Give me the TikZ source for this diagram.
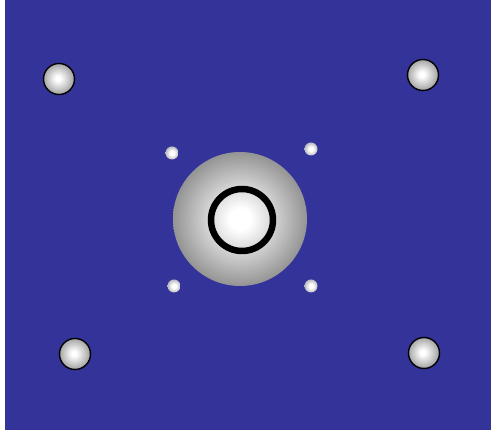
\documentclass[tikz,border=0pt]{standalone}
\usepackage{tikz}
\definecolor{bgblue}{RGB}{51,51,153}
\pgfdeclareradialshading{bigsph}{\pgfpoint{0bp}{0bp}}{color(0bp)=(white); color(4bp)=(white); color(25bp)=(black!42); color(50bp)=(black!42)}
\pgfdeclareradialshading{cornersph}{\pgfpoint{-2bp}{1bp}}{color(0bp)=(white); color(4bp)=(white); color(26bp)=(black!38); color(50bp)=(black!38)}
\pgfdeclareradialshading{smalldot}{\pgfpoint{0bp}{0bp}}{color(0bp)=(white); color(8bp)=(white); color(18bp)=(black!15); color(25bp)=(bgblue!40!black!30); color(50bp)=(bgblue!40!black!30)}
\tikzset{
  cornerball/.style={shading=cornersph, draw=black, line width=1.4pt},
  dotball/.style={shading=smalldot},
}
\begin{document}
\begin{tikzpicture}[x=1pt,y=1pt]
\useasboundingbox (0,0) rectangle (493,433);
\fill[white] (0,0) rectangle (493,433);
\fill[bgblue] (5,3) rectangle (491,433);
% central sphere
\shade[shading=bigsph] (240,214) circle (67);
\draw[black, line width=6.5pt] (242,213) circle (31);
% small dots
\shade[dotball] (172,280) circle (6.5);
\shade[dotball] (311,284) circle (6.5);
\shade[dotball] (174,147) circle (6.5);
\shade[dotball] (311,147) circle (6.5);
% corner balls
\shade[cornerball] (59,354) circle (15.5);
\shade[cornerball] (423,358) circle (15.5);
\shade[cornerball] (75,79) circle (15.5);
\shade[cornerball] (424,80) circle (15.5);
\end{tikzpicture}
\end{document}
